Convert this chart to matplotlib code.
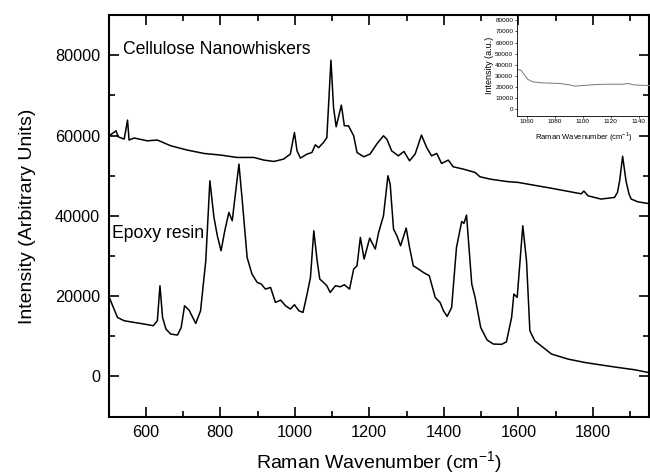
import matplotlib
matplotlib.use("Agg")
import matplotlib.pyplot as plt
from matplotlib.ticker import MultipleLocator

plt.rcParams['font.family'] = ['Liberation Sans', 'DejaVu Sans']
plt.rcParams['mathtext.fontset'] = 'custom'
plt.rcParams['mathtext.rm'] = 'Liberation Sans'

# spectra (wavenumber, intensity)
cnw_x = [502, 520, 526, 542, 551, 555, 569, 604, 631, 667, 711, 756, 801, 845, 890,
         917, 944, 970, 988, 999, 1006, 1015, 1033, 1046, 1055, 1064, 1077, 1086,
         1097, 1104, 1111, 1125, 1133, 1144, 1151, 1158, 1167, 1185, 1202, 1220,
         1238, 1247, 1260, 1278, 1293, 1308, 1323, 1340, 1354, 1367, 1381, 1394,
         1412, 1425, 1452, 1484, 1497, 1524, 1568, 1600, 1689, 1769, 1776, 1787,
         1822, 1858, 1866, 1872, 1880, 1889, 1897, 1903, 1921, 1948]
cnw_y = [59960, 61200, 59700, 59140, 63870, 58900, 59400, 58700, 58900, 57470, 56400,
         55560, 55150, 54560, 54560, 53900, 53560, 54150, 55400, 60780, 56200, 54400,
         55400, 55800, 57700, 57000, 58300, 59500, 78800, 67000, 62200, 67600, 62450,
         62450, 61200, 59960, 55800, 54730, 55400, 57900, 59960, 59130, 56200, 54970,
         56050, 53730, 55400, 60130, 57040, 54970, 55550, 53060, 53900, 52240, 51660,
         50820, 49750, 49170, 48570, 48330, 46880, 45500, 46200, 45000, 44190, 44600,
         45800, 48750, 54850, 48750, 45500, 44190, 43500, 43100]

epo_x = [502, 511, 524, 542, 569, 596, 620, 631, 638, 645, 654, 667, 685, 695, 704,
         716, 734, 747, 761, 772, 783, 792, 802, 812, 823, 832, 850, 859, 872, 885,
         899, 910, 921, 935, 948, 962, 975, 988, 999, 1011, 1022, 1033, 1042, 1051,
         1060, 1067, 1077, 1086, 1095, 1109, 1122, 1133, 1147, 1158, 1167, 1176,
         1186, 1201, 1216, 1225, 1238, 1250, 1256, 1265, 1274, 1284, 1299, 1308,
         1318, 1332, 1345, 1361, 1377, 1390, 1399, 1409, 1421, 1434, 1448, 1454,
         1461, 1475, 1484, 1499, 1516, 1533, 1555, 1568, 1582, 1588, 1597, 1612,
         1622, 1631, 1644, 1689, 1733, 1778, 1823, 1867, 1912, 1948]
epo_y = [19680, 17610, 14700, 13870, 13450, 13050, 12630, 13870, 22590, 14700, 11800,
         10560, 10310, 12200, 17610, 16540, 13200, 16360, 28820, 48750, 39610, 35050,
         31310, 36290, 40850, 38790, 52910, 43770, 29640, 25510, 23420, 23020, 21770,
         22170, 18430, 19030, 17610, 16790, 17860, 16360, 15940, 20530, 24660, 36290,
         28820, 24260, 23420, 22590, 20920, 22590, 22340, 22840, 21770, 26750, 27580,
         34630, 29240, 34470, 31730, 35870, 40030, 50000, 47930, 36710, 35050, 32560,
         36970, 32140, 27580, 26750, 25910, 25090, 19680, 18430, 16360, 14950, 17190,
         32140, 38610, 38110, 40200, 23020, 19680, 12200, 9100, 8070, 8000, 8600,
         14700, 20530, 19700, 37540, 28820, 11380, 8890, 5580, 4330, 3490, 2840, 2240,
         1670, 1000]

ins_x = [1053, 1056, 1058.6, 1061, 1064.5, 1071.7, 1083.7, 1090.8, 1094.4, 1100.4,
         1110, 1119.5, 1129, 1132.6, 1136.2, 1145.8, 1148]
ins_y = [35760, 35140, 30630, 26760, 24600, 23700, 23150, 21900, 20720, 21350,
         22250, 22520, 22520, 23150, 21900, 21350, 21400]

fig = plt.figure(figsize=(6.5, 4.75), dpi=100)
ax = fig.add_axes([0.167, 0.123, 0.831, 0.845])
ax.plot(cnw_x, cnw_y, color='black', lw=1.1)
ax.plot(epo_x, epo_y, color='black', lw=1.1)
ax.set_xlim(500, 1950)
ax.set_ylim(-10000, 90000)
ax.xaxis.set_major_locator(MultipleLocator(200))
ax.xaxis.set_minor_locator(MultipleLocator(100))
ax.yaxis.set_major_locator(MultipleLocator(20000))
ax.yaxis.set_minor_locator(MultipleLocator(10000))
ax.tick_params(which='both', direction='in', top=True, right=True, width=1.2,
               labelsize=11.7, pad=6)
ax.tick_params(which='major', length=7)
ax.tick_params(which='minor', length=4)
for s in ax.spines.values():
    s.set_linewidth(1.5)
ax.set_xlabel('Raman Wavenumber (cm$^{-1}$)', fontsize=14, labelpad=7)
ax.set_ylabel('Intensity (Arbitrary Units)', fontsize=14, labelpad=14)
ax.text(539, 80400, 'Cellulose Nanowhiskers', fontsize=12.7, va='baseline')
ax.text(510, 34480, 'Epoxy resin', fontsize=12.7, va='baseline')

# inset
axi = fig.add_axes([0.795, 0.756, 0.205, 0.213])
axi.patch.set_alpha(0)
axi.plot(ins_x, ins_y, color='#777777', lw=0.7)
axi.set_xlim(1053, 1148)
axi.set_ylim(-6000, 85000)
axi.xaxis.set_major_locator(MultipleLocator(20))
axi.yaxis.set_major_locator(MultipleLocator(10000))
axi.spines['top'].set_visible(False)
axi.spines['right'].set_visible(False)
for s in ['left', 'bottom']:
    axi.spines[s].set_linewidth(0.6)
axi.tick_params(direction='out', length=1.5, width=0.5, labelsize=4.6, pad=1)
axi.set_xlabel('Raman Wavenumber (cm$^{-1}$)', fontsize=5.5, labelpad=4)
axi.set_ylabel('Intensity (a.u.)', fontsize=6.5, labelpad=1)

fig.savefig('out.png', dpi=100)
